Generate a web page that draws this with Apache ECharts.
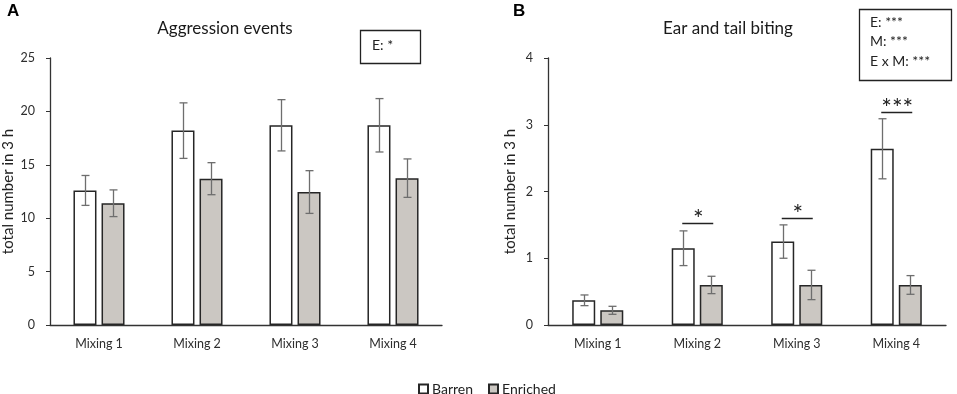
<!DOCTYPE html>
<html><head><meta charset="utf-8">
<script src="https://cdn.jsdelivr.net/npm/echarts@6/dist/echarts.min.js"></script>
<style>html,body{margin:0;padding:0;background:#fff}#c{width:957px;height:394px}</style>
</head><body><div id="c"></div>
<script>
const categories = ['Mixing 1', 'Mixing 2', 'Mixing 3', 'Mixing 4'];
const aggBarren = [12.6, 18.2, 18.7, 18.7];
const aggBarrenErr = [1.4, 2.6, 2.4, 2.5];
const aggEnriched = [11.4, 13.7, 12.45, 13.75];
const aggEnrichedErr = [1.25, 1.5, 2.0, 1.8];
const bitBarren = [0.37, 1.15, 1.25, 2.64];
const bitBarrenErr = [0.08, 0.26, 0.25, 0.45];
const bitEnriched = [0.22, 0.6, 0.6, 0.6];
const bitEnrichedErr = [0.06, 0.13, 0.22, 0.14];
const sigCats = [1, 2, 3];
const sigLevel = [1.53, 1.6, 3.19];
const sigLabels = ['*', '*', '***'];
const aggTicks = [0, 5, 10, 15, 20, 25];
const bitTicks = [0, 1, 2, 3, 4];

const FONT = 'Lato';
const OFF = 14;
const chart = echarts.init(document.getElementById('c'), null, {renderer: 'canvas'});

function errSeries(idx, vals, errs, off) {
  return {
    type: 'custom', xAxisIndex: idx, yAxisIndex: idx, z: 10,
    data: vals.map((v, i) => [i, v, errs[i]]),
    renderItem: function (params, api) {
      const i = api.value(0), v = api.value(1), e = api.value(2);
      const top = api.coord([i, v + e]);
      const bot = api.coord([i, v - e]);
      const x = Math.round(top[0] + off) + 0.5;
      const st = {stroke: '#6e6e6e', lineWidth: 1.3};
      return {type: 'group', children: [
        {type: 'line', shape: {x1: x, y1: top[1], x2: x, y2: bot[1]}, style: st},
        {type: 'line', shape: {x1: x - 4, y1: top[1], x2: x + 4, y2: top[1]}, style: st},
        {type: 'line', shape: {x1: x - 4, y1: bot[1], x2: x + 4, y2: bot[1]}, style: st}
      ]};
    }
  };
}

function barSeries(name, idx, vals, color) {
  return {
    name: name, type: 'bar', xAxisIndex: idx, yAxisIndex: idx,
    data: vals, barWidth: 23, barGap: '22%',
    itemStyle: {color: color, borderColor: '#262626', borderWidth: 1.5},
    emphasis: {disabled: true}
  };
}

const axisLabelStyle = {color: '#2e2e2e', fontFamily: FONT, fontSize: 12.5};

function xAx(idx) {
  return {type: 'category', gridIndex: idx, data: categories,
    axisLine: {lineStyle: {color: '#333', width: 1.3}}, axisTick: {show: false},
    axisLabel: Object.assign({margin: 12}, axisLabelStyle)};
}
function yAx(idx, ticks, gap) {
  return {type: 'value', gridIndex: idx, min: ticks[0], max: ticks[ticks.length - 1],
    interval: ticks[1] - ticks[0],
    name: 'total number in 3 h', nameLocation: 'middle', nameGap: gap,
    nameTextStyle: {color: '#222', fontFamily: FONT, fontSize: 15},
    axisLine: {show: true, lineStyle: {color: '#333', width: 1.3}},
    axisTick: {show: true, length: 4, lineStyle: {color: '#333'}},
    splitLine: {show: false},
    axisLabel: Object.assign({margin: 15}, axisLabelStyle)};
}

const option = {
  animation: false,
  textStyle: {fontFamily: FONT},
  title: [
    {text: 'Aggression events', left: 220, top: 15, textAlign: 'center',
     textStyle: {fontFamily: FONT, fontSize: 17, fontWeight: 'normal', color: '#1a1a1a'}},
    {text: 'Ear and tail biting', left: 723, top: 15, textAlign: 'center',
     textStyle: {fontFamily: FONT, fontSize: 17, fontWeight: 'normal', color: '#1a1a1a'}}
  ],
  legend: {
    data: ['Barren', 'Enriched'], left: 413, top: 377, itemWidth: 9, itemHeight: 9, itemGap: 15,
    icon: 'rect',
    textStyle: {fontFamily: FONT, fontSize: 14, color: '#222', padding: [0, 0, 0, -1]}
  },
  grid: [
    {left: 50, right: 515, top: 58, bottom: 69},
    {left: 548, right: 11, top: 58, bottom: 69}
  ],
  xAxis: [xAx(0), xAx(1)],
  yAxis: [yAx(0, aggTicks, 34), yAx(1, bitTicks, 30)],
  series: [
    barSeries('Barren', 0, aggBarren, '#ffffff'),
    barSeries('Enriched', 0, aggEnriched, '#cbc7c2'),
    barSeries('Barren', 1, bitBarren, '#ffffff'),
    barSeries('Enriched', 1, bitEnriched, '#cbc7c2'),
    errSeries(0, aggBarren, aggBarrenErr, -OFF),
    errSeries(0, aggEnriched, aggEnrichedErr, OFF),
    errSeries(1, bitBarren, bitBarrenErr, -OFF),
    errSeries(1, bitEnriched, bitEnrichedErr, OFF),
    {
      type: 'custom', xAxisIndex: 1, yAxisIndex: 1, z: 10,
      data: sigCats.map((c, i) => [c, sigLevel[i], sigLabels[i]]),
      renderItem: function (params, api) {
        const p = api.coord([api.value(0), api.value(1)]);
        const y = Math.round(p[1]) + 0.5;
        return {type: 'group', children: [
          {type: 'line', shape: {x1: p[0] - OFF - 1, y1: y, x2: p[0] + OFF + 2, y2: y},
           style: {stroke: '#222', lineWidth: 1.5}},
          {type: 'text', x: p[0] + 1, y: y - 4,
           style: {text: sigLabels[params.dataIndex], fontSize: 25, fontFamily: FONT,
                   fill: '#222', align: 'center', verticalAlign: 'middle', letterSpacing: 2}}
        ]};
      }
    }
  ],
  graphic: [
    {type: 'text', left: 7, top: 3, style: {text: 'A', fontSize: 17, fontWeight: 'bold', fontFamily: 'Liberation Sans', fill: '#000'}},
    {type: 'text', left: 513, top: 3, style: {text: 'B', fontSize: 17, fontWeight: 'bold', fontFamily: 'Liberation Sans', fill: '#000'}},
    {type: 'rect', shape: {x: 360.5, y: 30.5, width: 60, height: 33},
     style: {fill: '#fff', stroke: '#222', lineWidth: 1.3}},
    {type: 'text', left: 372, top: 38, style: {text: 'E: *', fontSize: 14, fontFamily: FONT, fill: '#222'}},
    {type: 'rect', shape: {x: 859.5, y: 9.5, width: 92, height: 71},
     style: {fill: '#fff', stroke: '#222', lineWidth: 1.3}},
    {type: 'text', left: 870, top: 15, style: {text: 'E: ***', fontSize: 14, fontFamily: FONT, fill: '#222'}},
    {type: 'text', left: 870, top: 34, style: {text: 'M: ***', fontSize: 14, fontFamily: FONT, fill: '#222'}},
    {type: 'text', left: 870, top: 54, style: {text: 'E x M: ***', fontSize: 14, fontFamily: FONT, fill: '#222'}}
  ]
};
chart.setOption(option);
</script>
</body></html>
